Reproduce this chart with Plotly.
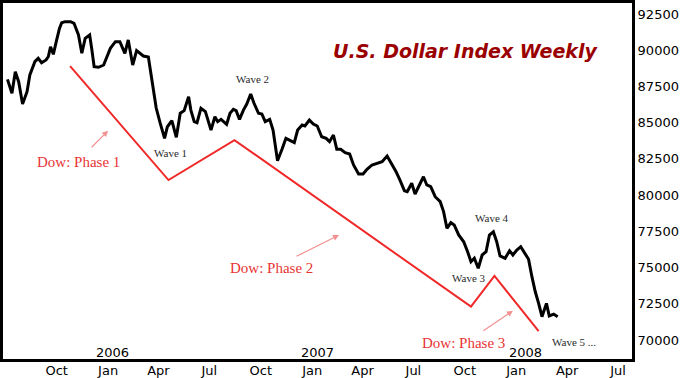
import plotly.graph_objects as go

# ---- Data ----
dates = ["2005-07-05","2005-07-13","2005-07-19","2005-07-25","2005-08-01","2005-08-09","2005-08-14","2005-08-23","2005-08-29","2005-09-04","2005-09-12","2005-09-16","2005-09-20","2005-09-25","2005-10-01","2005-10-06","2005-10-10","2005-10-16","2005-10-26","2005-11-01","2005-11-09","2005-11-15","2005-11-21","2005-11-29","2005-12-03","2005-12-07","2005-12-15","2005-12-24",
"2006-01-05","2006-01-14","2006-01-22","2006-01-31","2006-02-06","2006-02-14","2006-02-21","2006-03-05","2006-03-14","2006-03-20","2006-03-28","2006-04-04","2006-04-12","2006-04-17","2006-04-25","2006-05-03","2006-05-10","2006-05-17","2006-05-25","2006-05-29","2006-06-04","2006-06-09","2006-06-16","2006-06-24","2006-06-29","2006-07-04","2006-07-11","2006-07-16","2006-07-22","2006-07-26","2006-08-01","2006-08-07","2006-08-13","2006-08-18","2006-08-24","2006-08-31","2006-09-06","2006-09-13","2006-09-19","2006-09-27","2006-10-03","2006-10-09","2006-10-17","2006-10-23","2006-10-27","2006-10-31","2006-11-08","2006-11-15","2006-11-23","2006-11-30","2006-12-06","2006-12-14","2006-12-19","2006-12-27",
"2007-01-03","2007-01-10","2007-01-18","2007-01-26","2007-02-01","2007-02-08","2007-02-14","2007-02-21","2007-03-01","2007-03-09","2007-03-16","2007-03-25","2007-04-02","2007-04-09","2007-04-18","2007-04-27","2007-05-06","2007-05-15","2007-05-22","2007-05-31","2007-06-07","2007-06-15","2007-06-20","2007-06-28","2007-07-04","2007-07-12","2007-07-19","2007-07-25","2007-08-01","2007-08-09","2007-08-18","2007-08-24","2007-08-30","2007-09-06","2007-09-12","2007-09-20","2007-09-29","2007-10-06","2007-10-12","2007-10-18","2007-10-25","2007-11-01","2007-11-08","2007-11-14","2007-11-21","2007-11-27","2007-12-03","2007-12-12","2007-12-20","2007-12-26",
"2008-01-02","2008-01-09","2008-01-17","2008-01-23","2008-01-29","2008-02-04","2008-02-10","2008-02-16","2008-02-24","2008-02-29","2008-03-08","2008-03-15"]

index_values = [87990,87030,88520,87830,86290,87140,88290,89210,89440,89140,89330,89550,90240,89720,90710,91510,91900,91970,91970,91860,91050,89790,90820,91050,90020,88860,88820,88980,
90130,90590,90590,89790,90710,88980,89970,89600,89530,87940,86010,84980,83920,84720,85140,83990,85650,85830,86790,85870,85070,85000,85990,85760,85180,84490,85410,85070,85230,85070,84890,85650,85920,85830,85230,85870,86290,86980,86340,85650,85600,85070,85230,84490,83580,82370,83160,83920,83760,83620,84490,84840,84770,85180,
84910,84770,84030,83920,83690,84150,83160,83160,82930,82840,82080,81460,81460,81780,82080,82200,82310,82700,82240,81620,81040,80300,80240,80820,80080,80700,81270,80700,80580,79890,79550,78860,77710,78100,77940,77250,76780,76090,75400,75640,74950,75870,76090,77250,77470,76780,75800,75640,76160,75870,
76210,76440,75980,75570,74370,73330,72530,71610,72530,71660,71790,71610]

# Dow phase trend line (red)
phase_dates = ["2005-10-25","2006-04-19","2006-08-15","2007-10-12","2007-11-23","2008-02-10"]
phase_values = [88910,81040,83800,72300,74420,70620]

# Axis ticks
month_ticks = ["2005-10-01","2006-01-01","2006-04-01","2006-07-01","2006-10-01","2007-01-01",
               "2007-04-01","2007-07-01","2007-10-01","2008-01-01","2008-04-01","2008-07-01"]
month_labels = ["Oct","Jan","Apr","Jul","Oct","Jan","Apr","Jul","Oct","Jan","Apr","Jul"]
year_dates = ["2006-01-08","2007-01-11","2008-01-17"]
year_labels = ["2006","2007","2008"]
y_ticks = [70000,72500,75000,77500,80000,82500,85000,87500,90000,92500]

# Text annotations (label, date, value)
phase_labels = [("Dow: Phase 1","2005-11-09",82290),
                ("Dow: Phase 2","2006-10-21",74970),
                ("Dow: Phase 3","2007-09-29",69790)]
wave_labels = [("Wave 1","2006-04-22",82910),
               ("Wave 2","2006-09-16",88010),
               ("Wave 3","2007-10-08",74280),
               ("Wave 4","2007-11-19",78420),
               ("Wave 5 ...","2008-04-14",69860)]
# arrows: head (date, value), tail offset in px
arrows = [("2006-01-01",84445,-18,18),
          ("2007-02-18",77246,-44,22),
          ("2007-12-26",72021,-31,21)]

RED = "#f02828"
TXTRED = "#e83434"

fig = go.Figure()
fig.add_trace(go.Scatter(x=phase_dates, y=phase_values, mode="lines",
                         line=dict(color=RED, width=2), hoverinfo="skip", showlegend=False))
fig.add_trace(go.Scatter(x=dates, y=index_values, mode="lines",
                         line=dict(color="black", width=3), showlegend=False))

ann = []
ann.append(dict(text="<b><i>U.S. Dollar Index Weekly</i></b>", xref="paper", yref="paper",
                x=0.736, y=0.865, xanchor="center", yanchor="middle", showarrow=False,
                font=dict(family="DejaVu Sans", size=19, color="#9b0000")))
for t, d, v in phase_labels:
    ann.append(dict(text=t, x=d, y=v, xref="x", yref="y", showarrow=False,
                    xanchor="center", yanchor="middle",
                    font=dict(family="Liberation Serif", size=15, color=TXTRED)))
for t, d, v in wave_labels:
    ann.append(dict(text=t, x=d, y=v, xref="x", yref="y", showarrow=False,
                    xanchor="center", yanchor="middle",
                    font=dict(family="Liberation Serif", size=11, color="#2a2a2a")))
for d, v, axp, ayp in arrows:
    ann.append(dict(text="", x=d, y=v, xref="x", yref="y", ax=axp, ay=ayp,
                    showarrow=True, arrowhead=2, arrowsize=1, arrowwidth=1.2,
                    arrowcolor="#f39090"))
for d, t in zip(year_dates, year_labels):
    ann.append(dict(text=t, x=d, y=0, xref="x", yref="paper", yanchor="bottom",
                    xanchor="center", yshift=-3, showarrow=False,
                    font=dict(family="DejaVu Sans", size=13, color="black")))

fig.update_layout(
    width=680, height=378,
    margin=dict(l=3, r=48, t=3, b=19),
    paper_bgcolor="white", plot_bgcolor="white",
    annotations=ann,
    xaxis=dict(range=["2005-06-27", "2008-07-26"], tickvals=month_ticks, ticktext=month_labels,
               showgrid=False, zeroline=False, showline=True, linecolor="black", linewidth=3,
               mirror=True, ticks="", automargin=False, ticklabelstandoff=-3,
               tickfont=dict(family="DejaVu Sans", size=13, color="black")),
    yaxis=dict(range=[68690, 93260], tickvals=y_ticks, tickformat="d", side="right",
               showgrid=False, zeroline=False, showline=True, linecolor="black", linewidth=3,
               mirror=True, ticks="", automargin=False,
               tickfont=dict(family="DejaVu Sans", size=13, color="black")),
)

fig.write_html("out.html", config={"displayModeBar": False},
               post_script="document.body.style.margin='0';document.body.style.overflow='hidden';")
